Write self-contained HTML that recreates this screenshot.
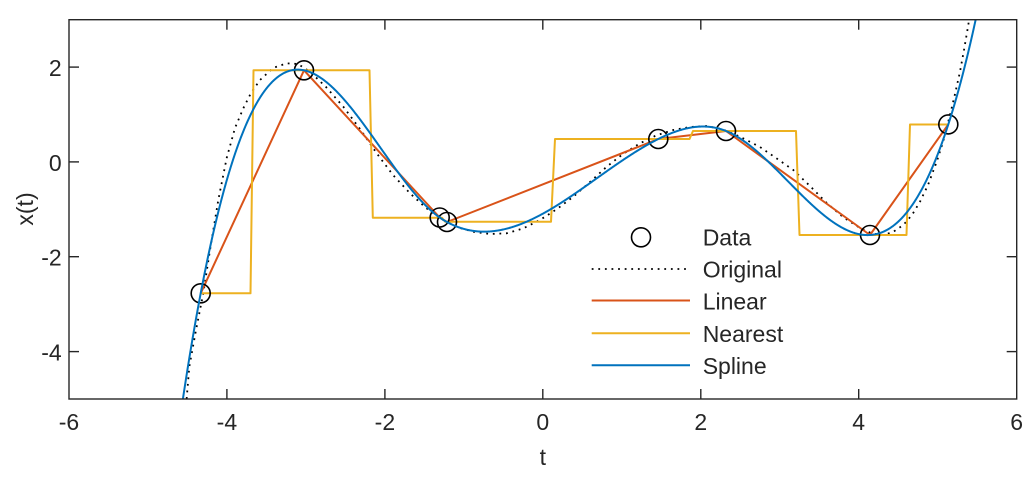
<!DOCTYPE html>
<html>
<head>
<meta charset="utf-8">
<style>
  html, body { margin: 0; padding: 0; background: #ffffff; }
  svg { display: block; }
  text { font-family: "Liberation Sans", Arial, Helvetica, sans-serif; fill: #262626; }
</style>
</head>
<body>
<svg id="chart" width="1024" height="492" viewBox="0 0 1024 492" xmlns="http://www.w3.org/2000/svg">
  <rect x="0" y="0" width="1024" height="492" fill="#ffffff"/>
  <defs>
    <clipPath id="plot">
      <rect x="69" y="19.7" width="947.7" height="379.3"/>
    </clipPath>
  </defs>

  <g clip-path="url(#plot)" fill="none" stroke-linejoin="round">
    <!-- Original (dotted) -->
    <polyline id="orig" stroke="#000000" stroke-width="1.8" stroke-dasharray="1.8 4.8"
      points="185.2,412 186.7,398.3 189.3,366.7 196,330 203.3,293.3 210,250 218.3,200 226.7,158 235,128 243.3,108.3 251,93 260,80 273,68 286.7,63.3 298,64 310,71.7 326,87 343.3,106.7 360,129 376.7,153.3 393,175 410,193.3 426,208 443.3,220 458,227.5 473.3,231.7 490,234 506.7,233.3 523,228.5 540,220 557,209 573.3,196.7 590,182 606.7,166.7 623,154 640,143.3 656,135.5 673.3,130 690,127 706.7,126 723,129.5 740,136.7 760,147 776,158 793.3,170 810,186 826.7,203 843,217 860,228 872,233.5 883.3,235 893,232 903.3,225 912,215 920,201.7 928,185 936.7,161.7 943,142 950,115 955,94 960,71.7 964,50 968.3,25 970,12"/>
    <!-- Linear -->
    <polyline stroke="#D95319" stroke-width="2"
      points="200.7,293.3 304,70.3 439.7,217.5 447,222 658.3,139 726,131 870,235 948.3,124.4"/>
    <!-- Nearest -->
    <polyline stroke="#EDB120" stroke-width="2"
      points="200.7,293.3 250.5,293.3 253.5,70.3 369.5,70.3 372.8,217.7 442,217.7 445,221.7 551,221.7 555,139 689.5,139 693,131 796,131 799.5,235 906.5,235 910,124.5 948.3,124.5"/>
    <!-- Data circles -->
    <g stroke="#000000" stroke-width="1.6">
      <circle cx="200.7" cy="293.3" r="9.5"/>
      <circle cx="304" cy="70.3" r="9.5"/>
      <circle cx="439.7" cy="217.5" r="9.5"/>
      <circle cx="447" cy="222" r="9.5"/>
      <circle cx="658.3" cy="139" r="9.5"/>
      <circle cx="726" cy="131" r="9.5"/>
      <circle cx="870" cy="235" r="9.5"/>
      <circle cx="948.3" cy="124.4" r="9.5"/>
    </g>
    <!-- Spline -->
    <polyline id="spl" stroke="#0072BD" stroke-width="2"
      points="181.6,412 183.3,398.3 187,370 192,335 196,312 200.7,293.3 206,268 213.3,240 220.7,200 226.7,170 235,142 243.3,120 251,102 260,86.7 270,77 280,72.5 290,70 300,69.8 313,72.5 326.7,78.3 343,94 360,113.3 376,137 393.3,163.3 410,186 426.7,206.7 440,217.5 450,223.5 460,228 475,232.3 490,233.5 506.7,231 523,224.5 540,216 557,205 573.3,193.3 590,180 606.7,166.7 623,155 640,145 658.3,137 673.3,131.7 686,128.3 700,126.7 712,127 723.3,128.3 732,132 740,136.7 750,143.5 760,151.7 773.3,163 793.3,183.3 810,200 826.7,215 843,226.5 860,233.3 870,235.3 876.7,235 885,232.5 893.3,228.3 902,221 910,211.7 918,198 926.7,181.7 935,162 943.3,141.7 948.3,124.5 954,104 960,81.7 967,52 975,20 977,10"/>
  </g>

  <!-- Axes box -->
  <rect x="69" y="19.7" width="947.7" height="379.3" fill="none" stroke="#262626" stroke-width="1.4"/>

  <!-- Ticks -->
  <g stroke="#262626" stroke-width="1.4">
    <line x1="226.9" y1="399" x2="226.9" y2="389"/>
    <line x1="384.9" y1="399" x2="384.9" y2="389"/>
    <line x1="542.8" y1="399" x2="542.8" y2="389"/>
    <line x1="700.8" y1="399" x2="700.8" y2="389"/>
    <line x1="858.7" y1="399" x2="858.7" y2="389"/>
    <line x1="226.9" y1="19.7" x2="226.9" y2="29.7"/>
    <line x1="384.9" y1="19.7" x2="384.9" y2="29.7"/>
    <line x1="542.8" y1="19.7" x2="542.8" y2="29.7"/>
    <line x1="700.8" y1="19.7" x2="700.8" y2="29.7"/>
    <line x1="858.7" y1="19.7" x2="858.7" y2="29.7"/>
    <line x1="69" y1="67.1" x2="79" y2="67.1"/>
    <line x1="69" y1="161.9" x2="79" y2="161.9"/>
    <line x1="69" y1="256.7" x2="79" y2="256.7"/>
    <line x1="69" y1="351.6" x2="79" y2="351.6"/>
    <line x1="1016.7" y1="67.1" x2="1006.7" y2="67.1"/>
    <line x1="1016.7" y1="161.9" x2="1006.7" y2="161.9"/>
    <line x1="1016.7" y1="256.7" x2="1006.7" y2="256.7"/>
    <line x1="1016.7" y1="351.6" x2="1006.7" y2="351.6"/>
  </g>

  <!-- X tick labels -->
  <g font-size="23" text-anchor="middle">
    <text x="69" y="430">-6</text>
    <text x="226.9" y="430">-4</text>
    <text x="384.9" y="430">-2</text>
    <text x="542.8" y="430">0</text>
    <text x="700.8" y="430">2</text>
    <text x="858.7" y="430">4</text>
    <text x="1016.7" y="430">6</text>
  </g>
  <!-- Y tick labels -->
  <g font-size="23" text-anchor="end">
    <text x="61.7" y="76">2</text>
    <text x="61.7" y="170.8">0</text>
    <text x="61.7" y="265.6">-2</text>
    <text x="61.7" y="360.5">-4</text>
  </g>

  <!-- Axis labels -->
  <text x="542.8" y="465" font-size="23" text-anchor="middle">t</text>
  <text transform="translate(33,209) rotate(-90)" font-size="23" text-anchor="middle">x(t)</text>

  <!-- Legend -->
  <g fill="none">
    <circle cx="641" cy="237.3" r="9.5" stroke="#000000" stroke-width="1.6"/>
    <line x1="591.7" y1="269" x2="690" y2="269" stroke="#000000" stroke-width="1.8" stroke-dasharray="1.8 4.8"/>
    <line x1="591.7" y1="300.5" x2="690" y2="300.5" stroke="#D95319" stroke-width="2"/>
    <line x1="591.7" y1="333.3" x2="690" y2="333.3" stroke="#EDB120" stroke-width="2"/>
    <line x1="591.7" y1="365.3" x2="690" y2="365.3" stroke="#0072BD" stroke-width="2"/>
  </g>
  <g font-size="23">
    <text x="702.7" y="245.6" fill="#000">Data</text>
    <text x="702.7" y="277.6" fill="#000">Original</text>
    <text x="702.7" y="309.4" fill="#000">Linear</text>
    <text x="702.7" y="341.8" fill="#000">Nearest</text>
    <text x="702.7" y="373.8" fill="#000">Spline</text>
  </g>
</svg>
<script>
(function(){
  var NS = "http://www.w3.org/2000/svg";
  function solve(A, b) {
    var n = b.length, i, j, k;
    for (i = 0; i < n; i++) {
      var p = i;
      for (k = i + 1; k < n; k++) if (Math.abs(A[k][i]) > Math.abs(A[p][i])) p = k;
      var t = A[i]; A[i] = A[p]; A[p] = t;
      var tb = b[i]; b[i] = b[p]; b[p] = tb;
      for (k = i + 1; k < n; k++) {
        var f = A[k][i] / A[i][i];
        for (j = i; j < n; j++) A[k][j] -= f * A[i][j];
        b[k] -= f * b[i];
      }
    }
    var x = new Array(n);
    for (i = n - 1; i >= 0; i--) {
      var s = b[i];
      for (j = i + 1; j < n; j++) s -= A[i][j] * x[j];
      x[i] = s / A[i][i];
    }
    return x;
  }
  function replaceWith(pl, pts) {
    var d = "";
    for (var i = 0; i < pts.length; i++) {
      d += (i ? " L" : "M") + pts[i][0].toFixed(2) + "," + pts[i][1].toFixed(2);
    }
    var path = document.createElementNS(NS, "path");
    var attrs = ["stroke", "stroke-width", "stroke-dasharray"];
    for (var j = 0; j < attrs.length; j++) {
      var v = pl.getAttribute(attrs[j]);
      if (v) path.setAttribute(attrs[j], v);
    }
    path.setAttribute("fill", "none");
    path.setAttribute("stroke-linejoin", "round");
    path.setAttribute("d", d);
    pl.parentNode.replaceChild(path, pl);
  }
  try {
    var X = [200.7, 304, 439.7, 447, 658.3, 726, 870, 948.3];
    var Y = [293.3, 70.3, 217.5, 222.0, 139, 131, 235, 124.4];
    var n = X.length, h = [], i;
    for (i = 0; i < n - 1; i++) h[i] = X[i + 1] - X[i];
    var A = [], b = [];
    for (i = 0; i < n; i++) { A.push(new Array(n).fill(0)); b.push(0); }
    A[0][0] = h[1]; A[0][1] = -(h[0] + h[1]); A[0][2] = h[0];
    for (i = 1; i < n - 1; i++) {
      A[i][i - 1] = h[i - 1]; A[i][i] = 2 * (h[i - 1] + h[i]); A[i][i + 1] = h[i];
      b[i] = 6 * ((Y[i + 1] - Y[i]) / h[i] - (Y[i] - Y[i - 1]) / h[i - 1]);
    }
    A[n - 1][n - 3] = h[n - 2]; A[n - 1][n - 2] = -(h[n - 3] + h[n - 2]); A[n - 1][n - 1] = h[n - 3];
    var M = solve(A, b);
    function S(x) {
      var s;
      if (x < X[1]) s = 0;
      else if (x >= X[n - 2]) s = n - 2;
      else { for (s = 1; s < n - 2; s++) if (x < X[s + 1]) break; }
      var hh = h[s], a = X[s + 1] - x, c = x - X[s];
      return M[s] * a * a * a / (6 * hh) + M[s + 1] * c * c * c / (6 * hh) +
             (Y[s] / hh - M[s] * hh / 6) * a + (Y[s + 1] / hh - M[s + 1] * hh / 6) * c;
    }
    var sp = [], x, ok = true;
    for (x = 170; x <= 990; x += 0.5) {
      var yv = S(x);
      if (!isFinite(yv)) { ok = false; break; }
      if (yv > -200 && yv < 700) sp.push([x, yv]);
    }
    if (ok && sp.length > 10) replaceWith(document.getElementById("spl"), sp);
  } catch (e) {}

  try {
    var pl = document.getElementById("orig");
    var raw = pl.getAttribute("points").trim().split(/\s+/);
    var P = raw.map(function(s){ var a = s.split(","); return [parseFloat(a[0]), parseFloat(a[1])]; });
    var deg = 7, m = deg + 1, j, k;
    var N = [], r = [];
    for (j = 0; j < m; j++) { N.push(new Array(m).fill(0)); r.push(0); }
    for (i = 0; i < P.length; i++) {
      var u = (P[i][0] - 578) / 400, pw = [1];
      for (j = 1; j < 2 * m; j++) pw[j] = pw[j - 1] * u;
      for (j = 0; j < m; j++) {
        for (k = 0; k < m; k++) N[j][k] += pw[j + k];
        r[j] += P[i][1] * pw[j];
      }
    }
    var C = solve(N, r);
    var op = [], good = true, maxErr = 0;
    for (i = 0; i < P.length; i++) {
      var uu = (P[i][0] - 578) / 400, v = 0;
      for (j = m - 1; j >= 0; j--) v = v * uu + C[j];
      maxErr = Math.max(maxErr, Math.abs(v - P[i][1]));
    }
    if (maxErr < 9) {
      for (x = 184.5; x <= 971; x += 0.5) {
        var u2 = (x - 578) / 400, v2 = 0;
        for (j = m - 1; j >= 0; j--) v2 = v2 * u2 + C[j];
        if (!isFinite(v2)) { good = false; break; }
        op.push([x, v2]);
      }
      if (good) replaceWith(pl, op);
    }
  } catch (e) {}
})();
</script>
</body>
</html>
